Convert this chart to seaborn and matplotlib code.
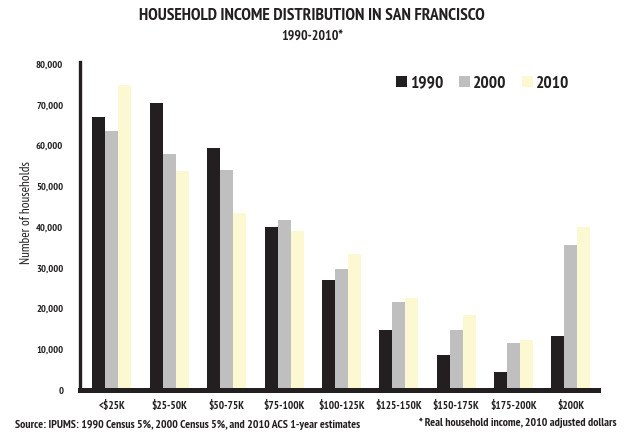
import matplotlib
matplotlib.use("Agg")
import matplotlib.pyplot as plt
import seaborn as sns
import pandas as pd
from matplotlib import font_manager as fm

categories = ["<$25K", "$25-50K", "$50-75K", "$75-100K", "$100-125K",
              "$125-150K", "$150-175K", "$175-200K", "$200K"]
years = ["1990", "2000", "2010"]
v1990 = [67000, 70500, 59300, 40000, 27000, 14800, 8500, 4400, 13200]
v2000 = [63600, 58000, 54000, 41800, 29800, 21600, 14800, 11500, 35700]
v2010 = [75000, 53800, 43500, 39000, 33500, 22700, 18400, 12200, 40000]
yticks = [0, 10000, 20000, 30000, 40000, 50000, 60000, 70000, 80000]
ytick_labels = ["0", "10,000", "20,000", "30,000", "40,000", "50,000",
                "60,000", "70,000", "80,000"]
colors = ["#231f20", "#bfbfbf", "#fbf8d2"]

rows = []
for yr, vals in zip(years, [v1990, v2000, v2010]):
    for c, v in zip(categories, vals):
        rows.append({"cat": c, "year": yr, "value": v})
df = pd.DataFrame(rows)

sns.set_theme(style="white")
available = set(f.name for f in fm.fontManager.ttflist)
fam = "DejaVu Sans"
for cand in ["PT Sans Narrow", "Fira Sans Condensed", "Roboto Condensed",
             "Archivo Narrow", "Asap Condensed", "Barlow Condensed"]:
    if cand in available:
        fam = cand
        break
plt.rcParams["font.family"] = [fam, "DejaVu Sans"]
txtc = "#231f20"

fig = plt.figure(figsize=(6.24, 4.32), dpi=100)
ax = fig.add_axes([0.128, 0.0972, 0.830, 0.760])
sns.barplot(data=df, x="cat", y="value", hue="year", order=categories,
            hue_order=years, palette=colors, width=0.68, gap=0,
            saturation=1, ax=ax, errorbar=None, linewidth=0)

ax.set_xlim(-0.56, 8.47)
ax.set_yticks(yticks)
ax.set_yticklabels(ytick_labels)
ax.tick_params(axis="both", length=0, labelsize=8, colors=txtc)
ax.tick_params(axis="y", labelsize=7.5, pad=12)
ax.tick_params(axis="x", pad=7)
for lab in ax.get_xticklabels() + ax.get_yticklabels():
    lab.set_fontweight("bold")
ax.set_xlabel("")
ax.set_ylabel("Number of households", fontsize=9.5, color=txtc,
              fontweight="normal")
ax.yaxis.set_label_coords(-0.09, 0.54)
for s in ["top", "right"]:
    ax.spines[s].set_visible(False)
ax.spines["left"].set_linewidth(2.4)
ax.spines["left"].set_color(txtc)
ax.spines["bottom"].set_linewidth(3.6)
ax.spines["bottom"].set_color(txtc)
ax.set_ylim(0, 80600)
ax.spines["left"].set_bounds(0, 80600)

leg = ax.legend(loc="upper left", bbox_to_anchor=(0.58, 1.005), ncol=3,
                frameon=False, fontsize=12.5, handlelength=0.65,
                handleheight=0.65, handletextpad=0.15, columnspacing=0.9)
for t in leg.get_texts():
    t.set_fontweight("bold")
    t.set_color(txtc)

fig.text(0.5, 0.962, "HOUSEHOLD INCOME DISTRIBUTION IN SAN FRANCISCO",
         ha="center", va="center", fontsize=12.5, fontweight="bold", color=txtc)
fig.text(0.5, 0.915, "1990-2010*", ha="center", va="center",
         fontsize=10, fontweight="bold", color=txtc)
fig.text(0.024, 0.016, "Source: IPUMS: 1990 Census 5%, 2000 Census 5%, and 2010 ACS 1-year estimates",
         ha="left", va="center", fontsize=8.5, color=txtc, fontweight="bold")
fig.text(0.988, 0.022, "* Real household income, 2010 adjusted dollars",
         ha="right", va="center", fontsize=8.5, color=txtc, fontweight="bold")

fig.savefig("out.png", dpi=100)
